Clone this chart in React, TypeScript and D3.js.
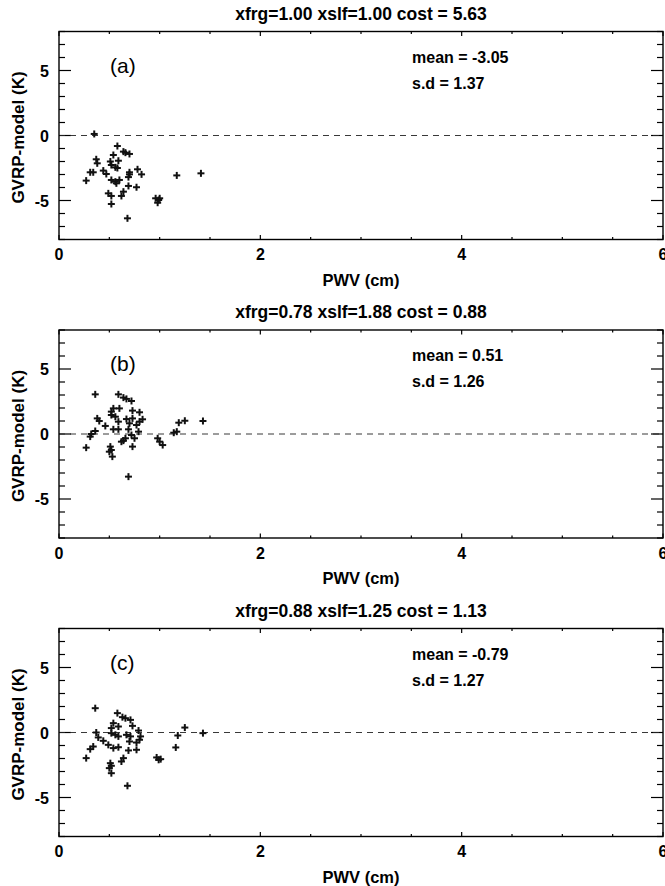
import React from "react";
import * as d3 from "d3";

const titles = [
  "xfrg=1.00 xslf=1.00 cost = 5.63",
  "xfrg=0.78 xslf=1.88 cost = 0.88",
  "xfrg=0.88 xslf=1.25 cost = 1.13",
];
const panelLabels = ["(a)", "(b)", "(c)"];
const meanTexts = ["mean = -3.05", "mean = 0.51", "mean = -0.79"];
const sdTexts = ["s.d = 1.37", "s.d = 1.26", "s.d = 1.27"];

const xTicks = [0, 2, 4, 6];
const yTicks = [-5, 0, 5];

const pwvA = [0.35,0.58,0.64,0.66,0.70,0.54,0.37,0.59,0.51,0.38,0.52,0.56,0.58,0.78,0.31,0.34,0.44,0.47,0.70,0.70,0.82,1.17,1.41,0.69,0.27,0.52,0.56,0.60,0.57,0.69,0.77,0.49,0.52,0.64,0.62,0.96,0.99,0.98,1.0,0.52,0.68];
const diffA = [0.12,-0.81,-1.24,-1.32,-1.42,-1.5,-1.83,-1.94,-2.0,-2.14,-2.27,-2.45,-2.5,-2.6,-2.83,-2.83,-2.7,-2.96,-2.83,-2.99,-2.99,-3.07,-2.91,-3.2,-3.47,-3.42,-3.55,-3.42,-3.68,-3.88,-3.98,-4.45,-4.65,-4.32,-4.65,-4.83,-4.96,-5.17,-4.83,-5.27,-6.37];

const pwvB = [0.36,0.59,0.64,0.67,0.72,0.54,0.60,0.52,0.73,0.80,0.52,0.56,0.38,0.67,0.73,0.83,0.80,0.40,0.59,0.70,0.77,0.46,0.54,0.59,0.69,0.79,0.36,0.32,0.31,0.72,0.75,0.66,0.64,0.62,0.98,1.00,1.03,1.14,1.17,1.19,1.25,1.43,0.27,0.73,0.51,0.52,0.50,0.53,0.69];
const diffB = [3.05,3.05,2.8,2.7,2.54,1.97,1.97,1.72,1.8,1.67,1.46,1.33,1.2,1.15,1.2,1.13,0.95,1.0,0.95,0.82,0.69,0.62,0.36,0.36,0.36,0.18,0.23,0,-0.2,-0.08,-0.33,-0.33,-0.51,-0.59,-0.33,-0.59,-0.85,0.1,0.18,0.87,1.02,1.0,-1.05,-0.97,-0.97,-1.23,-1.36,-1.74,-3.28];

const pwvC = [0.36,0.58,0.63,0.66,0.71,0.54,0.59,0.52,0.73,0.79,1.25,1.43,0.37,0.52,0.56,0.59,0.67,0.71,0.81,0.80,0.39,1.18,0.44,0.70,0.77,0.49,0.54,0.59,0.34,0.31,1.16,0.77,0.69,0.27,0.64,0.62,0.97,0.99,1.01,0.51,0.52,0.50,0.52,0.68];
const diffC = [1.87,1.49,1.18,1.1,0.97,0.72,0.46,0.34,0.51,0.15,0.38,-0.05,0,-0.05,-0.18,-0.3,-0.18,-0.3,-0.3,-0.56,-0.38,-0.23,-0.64,-0.69,-0.77,-0.95,-1.2,-1.13,-1.08,-1.28,-1.15,-1.33,-1.38,-1.97,-1.97,-2.23,-1.92,-2.1,-2.05,-2.36,-2.56,-2.74,-3.13,-4.1];

const pwvSets = [pwvA, pwvB, pwvC];
const diffSets = [diffA, diffB, diffC];

const FONT = "'Liberation Sans', Arial, sans-serif";
const W = 665;
const H = 886;
const left = 59;
const right = 663;
const panelTop0 = 31.5;
const panelH = 208;
const period = 298.5;

function Panel({ i }: { i: number }) {
  const top = panelTop0 + i * period;
  const bottom = top + panelH;
  const x = d3.scaleLinear().domain([0, 6]).range([left, right]);
  const y = d3.scaleLinear().domain([-8, 8]).range([bottom, top]);
  const xMinor = d3.range(0, 6.01, 0.5);
  const yMinor = d3.range(-8, 8.01, 1);
  const pts = pwvSets[i].map((p, k) => [x(p), y(diffSets[i][k])]);
  const s = 3.5;
  return (
    <g>
      <text x={(left + right) / 2} y={top - 12} textAnchor="middle" fontFamily={FONT} fontWeight="bold" fontSize={17.5}>
        {titles[i]}
      </text>
      {xMinor.map((t) => {
        const major = Math.abs(t % 2) < 1e-9;
        const len = major ? 4.5 : 2.5;
        return (
          <g key={"x" + t}>
            <line x1={x(t)} x2={x(t)} y1={bottom} y2={bottom - len} stroke="#000" strokeWidth={1.2} />
            <line x1={x(t)} x2={x(t)} y1={top} y2={top + len} stroke="#000" strokeWidth={1.2} />
          </g>
        );
      })}
      {yMinor.map((t) => {
        const major = Math.abs(t % 5) < 1e-9;
        const len = major ? 12 : 6;
        return (
          <g key={"y" + t}>
            <line x1={left} x2={left + len} y1={y(t)} y2={y(t)} stroke="#000" strokeWidth={1.2} />
            <line x1={right} x2={right - len} y1={y(t)} y2={y(t)} stroke="#000" strokeWidth={1.2} />
          </g>
        );
      })}
      <line x1={left} x2={right} y1={y(0)} y2={y(0)} stroke="#222" strokeWidth={0.9} strokeDasharray="6,5" />
      <rect x={left} y={top} width={right - left} height={panelH} fill="none" stroke="#000" strokeWidth={1.4} />
      {xTicks.map((t) => (
        <text key={"xl" + t} x={x(t)} y={bottom + 20.5} textAnchor="middle" fontFamily={FONT} fontWeight="bold" fontSize={16}>
          {t}
        </text>
      ))}
      {yTicks.map((t) => (
        <text key={"yl" + t} x={left - 10} y={y(t) + 6} textAnchor="end" fontFamily={FONT} fontWeight="bold" fontSize={16}>
          {t}
        </text>
      ))}
      <text x={(left + right) / 2} y={bottom + 46} textAnchor="middle" fontFamily={FONT} fontWeight="bold" fontSize={16.5}>
        PWV (cm)
      </text>
      <text
        transform={`translate(24, ${y(0) + 2}) rotate(-90)`}
        textAnchor="middle"
        fontFamily={FONT}
        fontWeight="bold"
        fontSize={17}
      >
        GVRP-model (K)
      </text>
      <text x={110} y={top + 41} fontFamily={FONT} fontSize={21}>
        {panelLabels[i]}
      </text>
      <text x={412} y={top + 31} fontFamily={FONT} fontWeight="bold" fontSize={16}>
        {meanTexts[i]}
      </text>
      <text x={412} y={top + 57} fontFamily={FONT} fontWeight="bold" fontSize={16}>
        {sdTexts[i]}
      </text>
      {pts.map(([px, py], k) => (
        <g key={"p" + k} stroke="#111" strokeWidth={2}>
          <line x1={px - s} x2={px + s} y1={py} y2={py} />
          <line x1={px} x2={px} y1={py - s} y2={py + s} />
        </g>
      ))}
    </g>
  );
}

export default function App() {
  return (
    <svg width={W} height={H} style={{ position: "absolute", left: 0, top: 0, background: "#fff" }}>
      <rect x={0} y={0} width={W} height={H} fill="#fff" />
      {[0, 1, 2].map((i) => (
        <Panel key={i} i={i} />
      ))}
    </svg>
  );
}
